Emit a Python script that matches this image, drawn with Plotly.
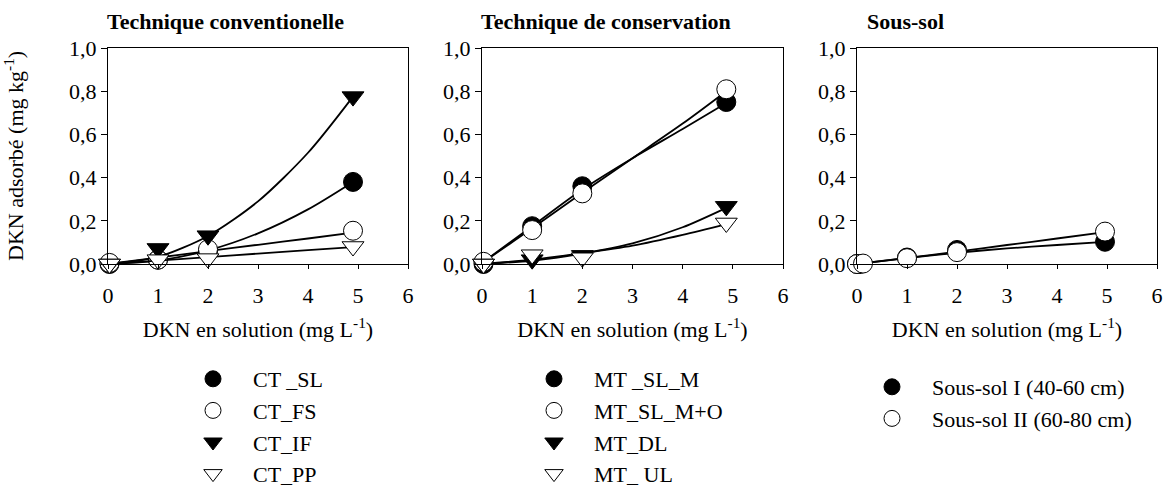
import plotly.graph_objects as go

# ---------------- data ----------------
panel_titles = ["Technique conventionelle", "Technique de conservation", "Sous-sol"]
x_title = "DKN en solution (mg L<sup>-1</sup>)"
y_title = "DKN adsorbé (mg kg<sup>-1</sup>)"

x_tick_vals = [0, 1, 2, 3, 4, 5, 6]
x_tick_text = ["0", "1", "2", "3", "4", "5", "6"]
y_tick_vals = [0.0, 0.2, 0.4, 0.6, 0.8, 1.0]
y_tick_text = ["0,0", "0,2", "0,4", "0,6", "0,8", "1,0"]

# Panel 1 - conventional tillage
ct_names = ["CT _SL", "CT_FS", "CT_IF", "CT_PP"]
ct_x = [0.03, 1, 2, 4.9]
ct_sl = [0.0, 0.02, 0.06, 0.38]
ct_fs = [0.005, 0.02, 0.068, 0.154]
ct_if = [0.0, 0.072, 0.131, 0.775]
ct_pp = [0.0, 0.02, 0.025, 0.081]
ct_fit_x = [0, 1, 2, 3, 4, 4.9]
ct_sl_fit = [0.0, 0.016, 0.063, 0.142, 0.253, 0.38]
ct_fs_fit = [0.0, 0.03, 0.06, 0.089, 0.118, 0.145]
ct_if_fit = [0.0, 0.033, 0.13, 0.29, 0.515, 0.775]
ct_pp_fit = [0.0, 0.016, 0.032, 0.048, 0.064, 0.078]

# Panel 2 - conservation tillage
mt_names = ["MT _SL_M", "MT_SL_M+O", "MT_DL", "MT_ UL"]
mt_x = [0.03, 1, 2, 4.87]
mt_sl_m = [0.0, 0.175, 0.36, 0.75]
mt_sl_mo = [0.01, 0.157, 0.327, 0.809]
mt_dl = [0.0, 0.02, 0.04, 0.267]
mt_ul = [0.0, 0.043, 0.029, 0.19]
mt_fit_x = [0, 1, 2, 3, 4, 4.87]
mt_sl_m_fit = [0.005, 0.175, 0.345, 0.49, 0.625, 0.745]
mt_sl_mo_fit = [0.005, 0.165, 0.33, 0.49, 0.65, 0.80]
mt_dl_fit = [0.0, 0.015, 0.048, 0.095, 0.17, 0.26]
mt_ul_fit = [0.0, 0.02, 0.05, 0.085, 0.135, 0.185]

# Panel 3 - subsoil
ss_names = ["Sous-sol I (40-60 cm)", "Sous-sol II (60-80 cm)"]
ss1_x = [0.0, 0.05, 1, 2, 4.96]
ss1_y = [0.0, 0.0, 0.03, 0.065, 0.103]
ss2_x = [0.0, 0.12, 1, 2, 4.96]
ss2_y = [0.0, 0.002, 0.027, 0.055, 0.15]
ss_fit_x = [0, 1, 2, 3, 4, 4.96]
ss1_fit = [0.0, 0.027, 0.052, 0.072, 0.088, 0.102]
ss2_fit = [0.0, 0.028, 0.057, 0.088, 0.118, 0.148]

# ---------------- styling ----------------
FONT = "Liberation Serif, Times New Roman, serif"
W, H = 1168, 488
ML, MR, MT, MB = 108, 11, 48, 224
PW = W - ML - MR
PH = H - MT - MB

def px_x(p):
    return (p - ML) / PW

def px_y(p):
    return (H - MB - p) / PH

panels_px = [(108, 408), (482, 783), (857, 1157)]

fill_circle = dict(symbol="circle", color="black")
open_circle = dict(symbol="circle", color="white")
fill_tri = dict(symbol="triangle-down", color="black")
open_tri = dict(symbol="triangle-down", color="white")
styles = [fill_circle, open_circle, fill_tri, open_tri]

fig = go.Figure()

def add_series(xs, ys, fx, fy, name, style, axis_idx, legend):
    xa = "x" if axis_idx == 1 else f"x{axis_idx}"
    ya = "y" if axis_idx == 1 else f"y{axis_idx}"
    fig.add_trace(go.Scatter(
        x=fx, y=fy, mode="lines", line=dict(color="black", width=1.8, shape="spline", smoothing=0.8),
        showlegend=False, hoverinfo="skip", xaxis=xa, yaxis=ya, cliponaxis=False))
    fig.add_trace(go.Scatter(
        x=xs, y=ys, mode="markers", name=name, legend=legend,
        marker=dict(symbol=style["symbol"], color=style["color"], size=19,
                    line=dict(color="black", width=1)),
        xaxis=xa, yaxis=ya, cliponaxis=False))

ct_data = [ct_sl, ct_fs, ct_if, ct_pp]
ct_fits = [ct_sl_fit, ct_fs_fit, ct_if_fit, ct_pp_fit]
for name, ys, fy, st in zip(ct_names, ct_data, ct_fits, styles):
    add_series(ct_x, ys, ct_fit_x, fy, name, st, 1, "legend")

mt_data = [mt_sl_m, mt_sl_mo, mt_dl, mt_ul]
mt_fits = [mt_sl_m_fit, mt_sl_mo_fit, mt_dl_fit, mt_ul_fit]
for name, ys, fy, st in zip(mt_names, mt_data, mt_fits, styles):
    add_series(mt_x, ys, mt_fit_x, fy, name, st, 2, "legend2")

add_series(ss1_x, ss1_y, ss_fit_x, ss1_fit, ss_names[0], fill_circle, 3, "legend3")
add_series(ss2_x, ss2_y, ss_fit_x, ss2_fit, ss_names[1], open_circle, 3, "legend3")

axis_common = dict(showline=True, linecolor="black", linewidth=1, mirror=True,
                   showgrid=False, zeroline=False, ticks="outside", tickcolor="black",
                   tickfont=dict(family=FONT, size=22, color="black"))

layout = dict(
    width=W, height=H,
    margin=dict(l=ML, r=MR, t=MT, b=MB, autoexpand=False),
    paper_bgcolor="white", plot_bgcolor="white",
    font=dict(family=FONT, size=22, color="black"),
    showlegend=True,
)

for i, (a, b) in enumerate(panels_px, start=1):
    xk = "xaxis" if i == 1 else f"xaxis{i}"
    yk = "yaxis" if i == 1 else f"yaxis{i}"
    anchor_y = "y" if i == 1 else f"y{i}"
    anchor_x = "x" if i == 1 else f"x{i}"
    layout[xk] = dict(axis_common, domain=[px_x(a), px_x(b)], range=[0, 6],
                      tickvals=x_tick_vals, ticktext=x_tick_text, ticklen=4,
                      ticklabelstandoff=8, anchor=anchor_y,
                      title=dict(text=x_title, font=dict(family=FONT, size=22), standoff=14))
    layout[yk] = dict(axis_common, domain=[0, 1], range=[0, 1.0],
                      tickvals=y_tick_vals, ticktext=y_tick_text, ticklen=6,
                      anchor=anchor_x)

leg_common = dict(font=dict(family=FONT, size=22, color="black"), bgcolor="rgba(0,0,0,0)",
                  itemwidth=70, xanchor="left", yanchor="top", tracegroupgap=0,
                  orientation="v")
layout["legend"] = dict(leg_common, x=px_x(173), y=px_y(358))
layout["legend2"] = dict(leg_common, x=px_x(514), y=px_y(358))
layout["legend3"] = dict(leg_common, x=px_x(852), y=px_y(366))

title_centers = [225, 606, 905]
annotations = [
    dict(text=f"<b>{t}</b>", x=px_x(c), y=px_y(21), xref="paper", yref="paper",
         xanchor="center", yanchor="middle", showarrow=False,
         font=dict(family=FONT, size=22, color="black"))
    for t, c in zip(panel_titles, title_centers)
]
annotations.append(dict(text=y_title, x=px_x(14), y=px_y(156), xref="paper", yref="paper",
                        xanchor="center", yanchor="middle", textangle=-90, showarrow=False,
                        font=dict(family=FONT, size=22, color="black")))
layout["annotations"] = annotations

fig.update_layout(**layout)
fig.write_html("out.html", config={"displayModeBar": False},
               post_script="document.body.style.margin='0';")
